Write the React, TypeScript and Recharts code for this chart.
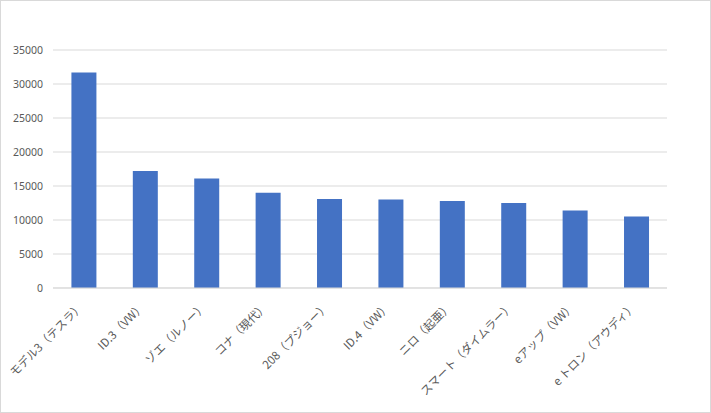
import React from "react";
import { BarChart, Bar, XAxis, YAxis, CartesianGrid } from "recharts";

const categories = [
  "モデル3（テスラ）",
  "ID.3（VW）",
  "ゾエ（ルノー）",
  "コナ（現代）",
  "208（プジョー）",
  "ID.4（VW）",
  "ニロ（起亜）",
  "スマート（ダイムラー）",
  "eアップ（VW）",
  "e トロン（アウディ）",
];
const sales = [31700, 17200, 16100, 14000, 13100, 13000, 12800, 12500, 11400, 10500];
const yTicks = [0, 5000, 10000, 15000, 20000, 25000, 30000, 35000];

const data = categories.map((name, i) => ({ name, value: sales[i] }));

const XTick = (props: any) => {
  const { x, y, payload } = props;
  const tx = x - 3;
  const ty = y + 8;
  return (
    <text
      x={tx}
      y={ty}
      transform={`rotate(-45, ${tx}, ${ty})`}
      textAnchor="end"
      dominantBaseline="central"
      fill="#595959"
      fontSize={11.5}
      fontFamily="'Noto Sans CJK JP', sans-serif"
    >
      {payload.value}
    </text>
  );
};

export default function App() {
  return (
    <div
      style={{
        position: "absolute",
        left: 0,
        top: 0,
        width: 711,
        height: 413,
        boxSizing: "border-box",
        border: "1px solid #d9d9d9",
        background: "#fff",
      }}
    >
      <div style={{ position: "absolute", left: -1, top: -1 }}>
        <BarChart
          width={711}
          height={413}
          data={data}
          margin={{ top: 50, right: 44, bottom: 0, left: 0 }}
          barCategoryGap="30%"
        >
          <CartesianGrid vertical={false} stroke="#d9d9d9" />
          <XAxis
            dataKey="name"
            height={125}
            interval={0}
            tickLine={false}
            axisLine={{ stroke: "#d9d9d9" }}
            tick={<XTick />}
          />
          <YAxis
            width={53}
            domain={[0, 35000]}
            ticks={yTicks}
            interval={0}
            axisLine={false}
            tickLine={false}
            tickMargin={4}
            tick={{ fill: "#595959", fontSize: 10.5, fontFamily: "'Noto Sans', sans-serif" }}
          />
          <Bar dataKey="value" fill="#4472C4" isAnimationActive={false} />
        </BarChart>
      </div>
    </div>
  );
}
